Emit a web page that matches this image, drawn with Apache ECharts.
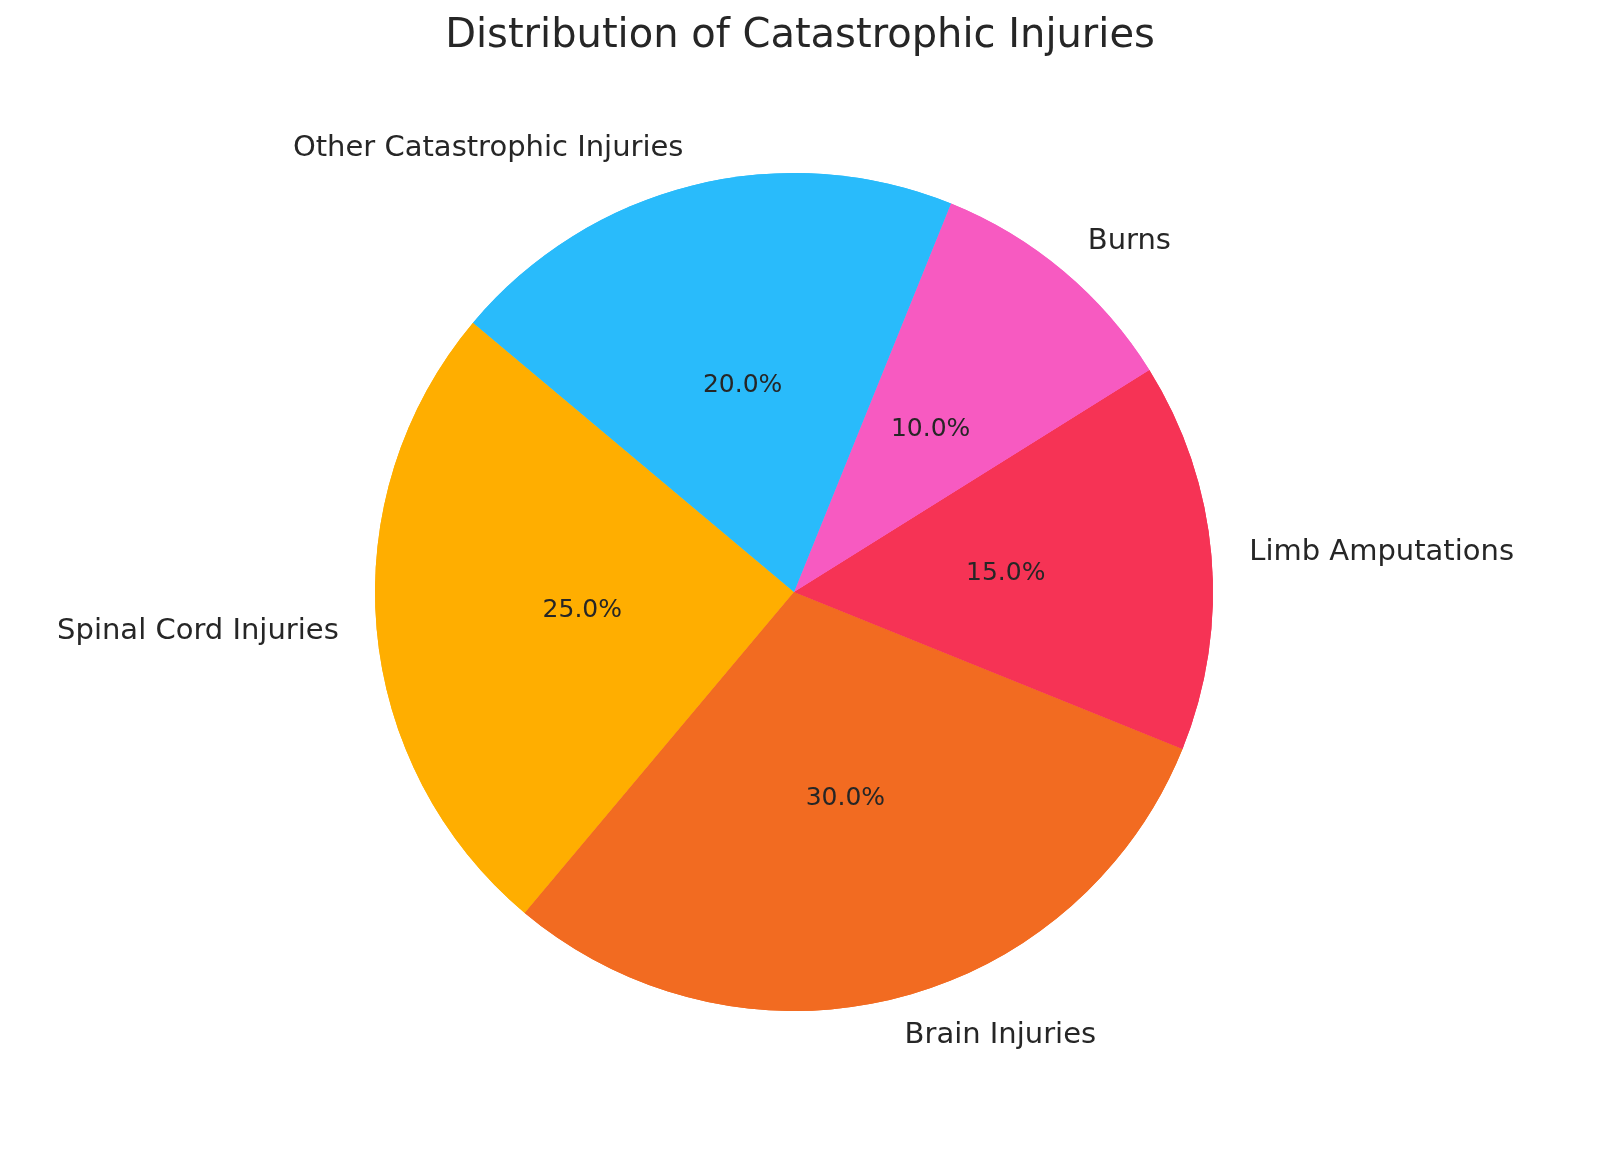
<!DOCTYPE html>
<html>
<head>
<meta charset="utf-8">
<script src="https://cdn.jsdelivr.net/npm/echarts@6/dist/echarts.min.js"></script>
</head>
<body style="margin:0;height:100%">
<div id="container" style="width:1600px;height:1159px"></div>
<script>
var categories = ['Spinal Cord Injuries', 'Brain Injuries', 'Limb Amputations', 'Burns', 'Other Catastrophic Injuries'];
var values = [25, 30, 15, 10, 20];
var colors = ['#FFAE00', '#F26B21', '#F63355', '#F75AC1', '#29BBFB'];

var seriesData = [];
for (var i = 0; i < categories.length; i++) {
    seriesData.push({ name: categories[i], value: values[i], itemStyle: { color: colors[i] } });
}

var chart = echarts.init(document.getElementById('container'));
var font = 'DejaVu Sans';
chart.setOption({
    animation: false,
    title: {
        text: 'Distribution of Catastrophic Injuries',
        left: 'center', top: 12,
        textStyle: { fontFamily: font, fontSize: 40, fontWeight: 'normal', color: '#262626' }
    },
    series: [
        {
            type: 'pie', center: [794, 592], radius: [0, 419],
            startAngle: 140, clockwise: false, silent: true,
            data: seriesData,
            label: {
                position: 'inside', formatter: function (p) { return p.value.toFixed(1) + '%'; },
                fontFamily: font, fontSize: 25, color: '#262626'
            },
            labelLine: { show: false }
        },
        {
            type: 'pie', center: [794, 592], radius: [0, 419],
            startAngle: 140, clockwise: false, silent: true,
            data: seriesData,
            label: {
                position: 'outside', formatter: '{b}', distanceToLabelLine: 0,
                fontFamily: font, fontSize: 29, color: '#262626'
            },
            labelLine: { show: false, length: 38, length2: 0 }
        }
    ]
});
</script>
</body>
</html>
